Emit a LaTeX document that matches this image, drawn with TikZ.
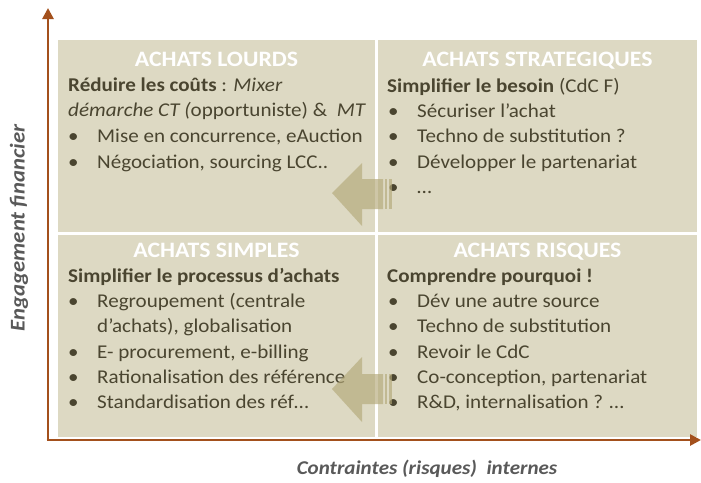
\documentclass[tikz,border=0pt]{standalone}
\usepackage{fontspec}
\setmainfont[FakeStretch=1.08]{Carlito}
\usetikzlibrary{arrows.meta}
\definecolor{boxc}{HTML}{DDD9C3}
\definecolor{txtc}{HTML}{4A4530}
\definecolor{axisc}{HTML}{A3501C}
\definecolor{lblc}{HTML}{595959}
\definecolor{arrc}{HTML}{B3A878}
\tikzset{
  quad/.style={fill=boxc, draw=none},
  hdr/.style={anchor=base, inner sep=0pt, text=white, font=\fontsize{22}{26}\selectfont\bfseries},
  txt/.style={anchor=base west, inner sep=0pt, text=txtc, font=\fontsize{19.5}{23}\selectfont},
  axisline/.style={draw=axisc, line width=2.6pt, -{Triangle[width=11pt,length=11pt]}},
  axlbl/.style={inner sep=0pt, text=lblc, font=\fontsize{19.5}{23}\selectfont\bfseries\itshape},
  bigarrow/.style={fill=arrc, fill opacity=0.65, draw=none},
}
\newcommand\bline[4]{%
  \node[txt] (#1b) at (#2,#3) {\textbullet};
  \node[txt] (#1) at ({#2+29},#3) {#4};}
\begin{document}
\begin{tikzpicture}[x=1pt,y=-1pt]
\useasboundingbox (0,0) rectangle (701,482);
% quadrants
\fill[quad] (58,40) rectangle (375,232);
\fill[quad] (378,40) rectangle (697,232);
\fill[quad] (58,235) rectangle (375,437);
\fill[quad] (378,235) rectangle (697,437);
% axes
\coordinate (o) at (48,440);
\coordinate (ytop) at (48,8);
\coordinate (xend) at (701,440);
\draw[axisline] ([yshift=1.3pt]o) -- (ytop);
\draw[axisline] ([xshift=-1.3pt]o) -- (xend);
\node[axlbl, rotate=90, font=\fontsize{21}{24}\selectfont\bfseries\itshape] (ylab) at (19,228) {Engagement financier};
\node[axlbl] (xlab) at (427,469) {Contraintes (risques)\ \ internes};
% top-left
\node[hdr] (h1) at (216.5,66) {ACHATS LOURDS};
\node[txt] (tl1) at (68,91) {\textbf{Réduire les coûts} : \textit{Mixer}};
\node[txt] (tl2) at (68,116) {\textit{démarche CT (}opportuniste) \&\ \ \textit{MT}};
\bline{tl3}{68}{142}{Mise en concurrence, eAuction}
\bline{tl4}{68}{168}{Négociation, sourcing LCC..}
% top-right
\node[hdr] (h2) at (537.5,66) {ACHATS STRATEGIQUES};
\node[txt] (tr1) at (387,92) {\textbf{Simplifier le besoin} (CdC F)};
\bline{tr2}{388}{117}{Sécuriser l’achat}
\bline{tr3}{388}{142}{Techno de substitution ?}
\bline{tr4}{388}{168}{Développer le partenariat}
\bline{tr5}{388}{193}{…}
% bottom-left
\node[hdr] (h3) at (216.5,257) {ACHATS SIMPLES};
\node[txt] (bl1) at (68,282) {\textbf{Simplifier le processus d’achats}};
\bline{bl2}{68}{307}{Regroupement (centrale}
\node[txt] (bl2c) at (97,332) {d’achats), globalisation};
\bline{bl3}{68}{358}{E- procurement, e-billing}
\bline{bl4}{68}{383}{Rationalisation des référence}
\bline{bl5}{68}{408}{Standardisation des réf…}
% bottom-right
\node[hdr] (h4) at (537.5,257) {ACHATS RISQUES};
\node[txt] (br1) at (387,282) {\textbf{Comprendre pourquoi !}};
\bline{br2}{388}{307}{Dév une autre source}
\bline{br3}{388}{332}{Techno de substitution}
\bline{br4}{388}{358}{Revoir le CdC}
\bline{br5}{388}{383}{Co-conception, partenariat}
\bline{br6}{388}{408}{R\&D, internalisation ? …}
% striped block arrows
\fill[bigarrow] (332,193) -- (362,163) -- (362,179) -- (383,179) -- (383,209) -- (362,209) -- (362,226) -- cycle;
\fill[bigarrow] (384.5,179) rectangle (387,209);
\fill[bigarrow] (389,179) rectangle (392,209);
\fill[bigarrow] (332,389) -- (362,357) -- (362,374) -- (383,374) -- (383,404) -- (362,404) -- (362,422) -- cycle;
\fill[bigarrow] (384.5,374) rectangle (387,404);
\fill[bigarrow] (389,374) rectangle (392,404);
\end{tikzpicture}
\end{document}
